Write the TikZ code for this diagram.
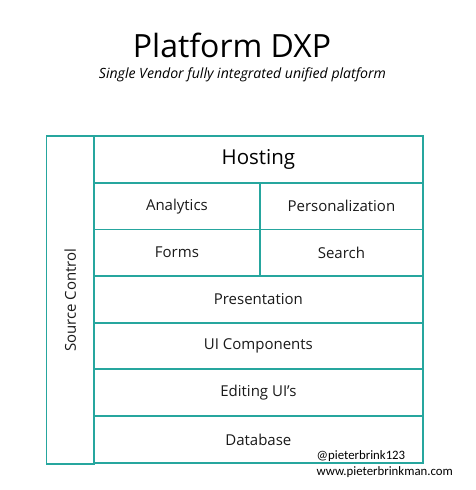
\documentclass[tikz,border=0pt]{standalone}
\usepackage{fontspec}
\setmainfont{Open Sans}
\newfontfamily\wmfont{Carlito}
\definecolor{teal1}{RGB}{38,166,158}
\begin{document}
\begin{tikzpicture}[x=1pt,y=-1pt,
  cell/.style={draw=teal1,line width=1.8pt,inner sep=0pt,anchor=north west},
  lbl/.style={font=\fontsize{15}{17}\selectfont,text=black!90},
  wm/.style={font=\wmfont\fontsize{12.8}{14}\selectfont,anchor=west,inner sep=0pt}]
\useasboundingbox (0,0) rectangle (475,490);
\node[anchor=base,inner sep=0pt,font=\fontsize{32}{36}\selectfont] (title) at (232,57) {Platform DXP};
\node[anchor=base,inner sep=0pt,font=\itshape\fontsize{14.1}{16}\selectfont] (sub) at (242.5,78) {Single Vendor fully integrated unified platform};
% source control column
\node[cell,minimum width=47.5pt,minimum height=328pt] (sc) at (45.5,135.3) {};
\node[lbl,rotate=90] (sct) at (sc.center) {Source Control};
% rows
\node[cell,minimum width=329pt,minimum height=46.6pt] (host) at (93,135.3) {};
\node[font=\fontsize{20.5}{24}\selectfont] (hostt) at (host.center) {Hosting};
\node[cell,minimum width=166pt,minimum height=46.6pt] (ana) at (93,181.9) {};
\node[lbl] (anat) at (ana.center) {Analytics};
\node[cell,minimum width=163pt,minimum height=46.6pt] (pers) at (259,181.9) {};
\node[lbl] (perst) at (pers.center) {Personalization};
\node[cell,minimum width=166pt,minimum height=46.6pt] (forms) at (93,228.5) {};
\node[lbl] (formst) at (forms.center) {Forms};
\node[cell,minimum width=163pt,minimum height=46.6pt] (search) at (259,228.5) {};
\node[lbl] (searcht) at (search.center) {Search};
\node[cell,minimum width=329pt,minimum height=46.6pt] (pres) at (93,275.1) {};
\node[lbl] (prest) at (pres.center) {Presentation};
\node[cell,minimum width=329pt,minimum height=46.6pt] (uic) at (93,321.7) {};
\node[lbl] (uict) at (uic.center) {UI Components};
\node[cell,minimum width=329pt,minimum height=46.6pt] (edit) at (93,368.3) {};
\node[lbl] (editt) at (edit.center) {Editing UI’s};
\node[cell,minimum width=329pt,minimum height=47pt] (db) at (93,414.9) {};
\node[lbl] (dbt) at ([yshift=-1pt]db.center) {Database};
\node[wm] (wm1) at (316.5,456.5) {@pieterbrink123};
\node[wm] (wm2) at (316.5,472) {www.pieterbrinkman.com};
\end{tikzpicture}
\end{document}
